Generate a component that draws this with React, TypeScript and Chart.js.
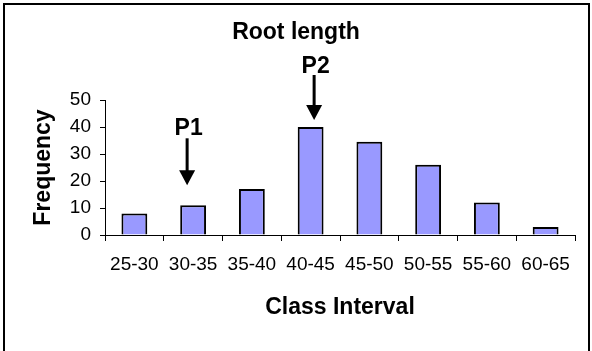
import React, { useEffect, useRef } from "react";
import { Chart, registerables } from "chart.js";

Chart.register(...registerables);

const categories = ["25-30", "30-35", "35-40", "40-45", "45-50", "50-55", "55-60", "60-65"];
const frequencies = [8, 11, 17, 40, 34.5, 26, 12, 3];
const yTicks = [0, 10, 20, 30, 40, 50];
const markerLabels = ["P1", "P2"];
const markerCategories = ["30-35", "40-45"];

const FONT = "'Liberation Sans', Arial, Helvetica, sans-serif";

// purely presentational arrow geometry (pixels)
const ARROW_STYLE = [
  { dx: -6, tipGap: 20, length: 47, labelGap: 10 },
  { dx: 3.5, tipGap: 7, length: 45, labelGap: 8 },
];

const decorPlugin = {
  id: "decor",
  afterDraw(chart: any) {
    const ctx = chart.ctx;
    const xs = chart.scales.x;
    const ys = chart.scales.y;
    ctx.save();
    // outer frame
    ctx.strokeStyle = "#000";
    ctx.lineWidth = 2;
    ctx.strokeRect(4, 4, 585, 360);
    // arrows
    markerLabels.forEach((lab, i) => {
      const idx = categories.indexOf(markerCategories[i]);
      const st = ARROW_STYLE[i];
      const x = xs.getPixelForValue(idx) + st.dx;
      const barTop = ys.getPixelForValue(frequencies[idx]);
      const tip = barTop - st.tipGap;
      const top = tip - st.length;
      const headH = 15;
      const headW = 16;
      ctx.fillStyle = "#000";
      ctx.fillRect(x - 1.5, top, 3, st.length - headH + 1);
      ctx.beginPath();
      ctx.moveTo(x - headW / 2, tip - headH);
      ctx.lineTo(x + headW / 2, tip - headH);
      ctx.lineTo(x, tip);
      ctx.closePath();
      ctx.fill();
      ctx.font = `bold 23px ${FONT}`;
      ctx.textAlign = "center";
      ctx.textBaseline = "middle";
      ctx.fillText(lab, x + 1.5, top - st.labelGap);
    });
    ctx.restore();
  },
};

export default function App() {
  const ref = useRef<HTMLCanvasElement | null>(null);
  useEffect(() => {
    if (!ref.current) return;
    const chart = new Chart(ref.current, {
      type: "bar",
      data: {
        labels: categories,
        datasets: [
          {
            data: frequencies,
            backgroundColor: "#9999FF",
            borderColor: "#000",
            borderWidth: 2,
            barPercentage: 0.44,
            categoryPercentage: 1,
          },
        ],
      },
      options: {
        responsive: false,
        animation: false,
        layout: { padding: 0 },
        plugins: {
          legend: { display: false },
          tooltip: { enabled: false },
          title: {
            display: true,
            text: "Root length",
            color: "#000",
            font: { family: FONT, size: 23, weight: "bold", lineHeight: 1.2 },
            padding: { top: 19.2, bottom: 53.2 },
          },
        },
        scales: {
          x: {
            grid: {
              display: true,
              drawOnChartArea: false,
              drawTicks: true,
              tickLength: 6,
              color: "#000",
              tickColor: "#000",
              offset: true,
            },
            border: { display: true, color: "#000", width: 1 },
            ticks: {
              color: "#000",
              font: { family: FONT, size: 19 },
              padding: 12,
              maxRotation: 0,
              autoSkip: false,
            },
            title: {
              display: true,
              text: "Class Interval",
              color: "#000",
              font: { family: FONT, size: 23, weight: "bold", lineHeight: 1.2 },
              padding: { top: 0, bottom: 30 },
            },
            afterFit(scale: any) {
              scale.height = 116;
            },
          },
          y: {
            min: 0,
            max: 50,
            afterBuildTicks(scale: any) {
              scale.ticks = yTicks.map((v) => ({ value: v }));
            },
            grid: {
              display: true,
              drawOnChartArea: false,
              drawTicks: true,
              tickLength: 5,
              color: "#000",
              tickColor: "#000",
            },
            border: { display: true, color: "#000", width: 1 },
            ticks: {
              color: "#000",
              font: { family: FONT, size: 19 },
              padding: 9,
            },
            title: {
              display: true,
              text: "Frequency",
              color: "#000",
              font: { family: FONT, size: 23, weight: "bold", lineHeight: 1.2 },
              padding: { top: 30, bottom: 0 },
            },
            afterFit(scale: any) {
              scale.width = 105;
            },
          },
          yRight: {
            position: "right",
            display: true,
            grid: { display: false },
            border: { display: false },
            ticks: { display: false },
            afterFit(scale: any) {
              scale.width = 17;
            },
          },
        },
      },
      plugins: [decorPlugin],
    } as any);
    return () => chart.destroy();
  }, []);
  return (
    <div style={{ position: "fixed", left: 0, top: 0, width: 592, height: 351, background: "#fff" }}>
      <canvas ref={ref} width={592} height={351} style={{ display: "block" }} />
    </div>
  );
}
